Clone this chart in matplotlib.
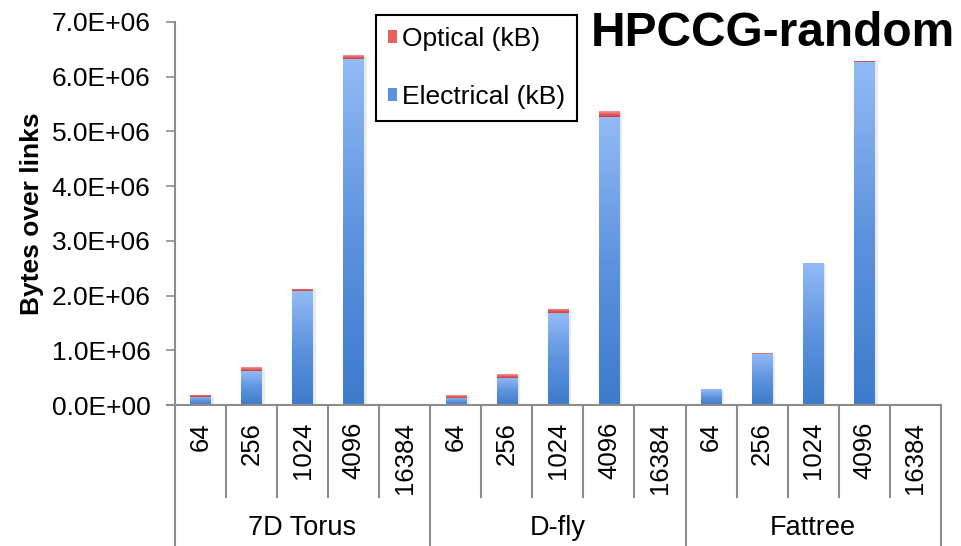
import numpy as np
import matplotlib
matplotlib.use("Agg")
import matplotlib.pyplot as plt
from matplotlib.colors import LinearSegmentedColormap
from matplotlib.patches import Patch

# ===============================
# DATA
# ===============================
topologies = ["7D Torus", "D-fly", "Fattree"]
node_counts = ["64", "256", "1024", "4096", "16384"]

# bytes over links per (topology, node count), in kB
electrical = [0.15e6, 0.62e6, 2.08e6, 6.32e6, 0,
              0.13e6, 0.50e6, 1.68e6, 5.27e6, 0,
              0.29e6, 0.94e6, 2.59e6, 6.27e6, 0]
optical = [0.04e6, 0.07e6, 0.05e6, 0.07e6, 0,
           0.05e6, 0.06e6, 0.08e6, 0.10e6, 0,
           0.0, 0.01e6, 0.01e6, 0.02e6, 0]

title = "HPCCG-random"
ylabel = "Bytes over links"
series_names = ["Optical (kB)", "Electrical (kB)"]

# ===============================
# STYLE
# ===============================
plt.rcParams["font.family"] = ["Liberation Sans", "DejaVu Sans"]
AXIS_GRAY = "#8c8c8c"
blue_cmap = LinearSegmentedColormap.from_list("blue", ["#3d7bcc", "#5d93de", "#92bbf6"])
red_cmap = LinearSegmentedColormap.from_list("red", ["#d23a3a", "#e86060", "#f49a9a"])

fig = plt.figure(figsize=(9.61, 5.46), dpi=100)
ax = fig.add_axes([0.182, 0.258, 0.797, 0.702])

n = len(electrical)
x = np.arange(n)
elec = np.array(electrical)
opt = np.array(optical)

ax.set_xlim(-0.5, n - 0.5)
ax.set_ylim(0, 7e6)

bars_e = ax.bar(x, elec, width=0.4, color="#5d93de", zorder=2)
bars_o = ax.bar(x, opt, bottom=elec, width=0.4, color="#e05050", zorder=2)

# gradient fill clipped to each bar (light on top, dark at bottom)
grad = np.linspace(0, 1, 256).reshape(-1, 1)


def fill_gradient(bars, cmap):
    for b in bars:
        h = b.get_height()
        if h <= 0:
            continue
        x0, y0 = b.get_x(), b.get_y()
        w = b.get_width()
        # soft shadow behind the bar
        ax.bar(x0 + w / 2 + 0.03, h, bottom=y0 - 0.03e6, width=w + 0.06,
               color="#d4d4d4", alpha=0.45, zorder=1, linewidth=0)
        im = ax.imshow(grad, extent=[x0, x0 + w, y0, y0 + h], origin="lower",
                       cmap=cmap, aspect="auto", zorder=2.5, interpolation="bilinear")
        im.set_clip_path(b)


fill_gradient(bars_e, blue_cmap)
fill_gradient(bars_o, red_cmap)
ax.set_xlim(-0.5, n - 0.5)
ax.set_ylim(0, 7e6)

# ===============================
# AXES
# ===============================
yt = np.arange(0, 7.01e6, 1e6)
ax.set_yticks(yt)
ax.set_yticklabels(["{:.1E}".format(v) for v in yt], fontsize=19)
ax.tick_params(axis="y", length=6.5, width=1.2, color=AXIS_GRAY, pad=11)
ax.set_xticks([])
for side in ["top", "right"]:
    ax.spines[side].set_visible(False)
for side in ["left", "bottom"]:
    ax.spines[side].set_color(AXIS_GRAY)
    ax.spines[side].set_linewidth(1.5)

ax.set_ylabel(ylabel, fontsize=19, fontweight="bold")
ax.yaxis.set_label_coords(-0.171, 0.5)

# two-level category labels below the axis
trans = ax.get_xaxis_transform()
ng = len(node_counts)
for i in range(n):
    ax.text(i, -0.044, node_counts[i % ng], rotation=90, ha="center", va="top",
            fontsize=18.5, transform=trans)
for k in range(n + 1):
    xb = k - 0.5
    y_end = -0.37 if k % ng == 0 else -0.24
    ax.plot([xb, xb], [0, y_end], color=AXIS_GRAY, lw=1.5, transform=trans,
            clip_on=False)
ax.plot([-0.5 - 0.16, -0.5], [0, 0], color=AXIS_GRAY, lw=1.5, transform=trans,
        clip_on=False)
for g, name in enumerate(topologies):
    ax.text(g * ng + (ng - 1) / 2, -0.321, name, ha="center", va="center",
            fontsize=19.5, transform=trans)

# ===============================
# TITLE & LEGEND
# ===============================
fig.text(0.994, 1 - 33 / 546, title, ha="right", va="center", fontsize=34.5,
         fontweight="bold")

handles = [Patch(facecolor="#e86060"), Patch(facecolor="#5d93de")]
leg = fig.legend(handles, series_names, loc="upper left",
                 bbox_to_anchor=(376 / 961, 1 - 15 / 546), fontsize=19,
                 handlelength=0.35, handleheight=0.35, handletextpad=0.2,
                 labelspacing=1.3, borderpad=0.45, fancybox=False,
                 framealpha=1, borderaxespad=0)
leg.get_frame().set_edgecolor("black")
leg.get_frame().set_linewidth(1.5)

fig.savefig("out.png", dpi=100)
